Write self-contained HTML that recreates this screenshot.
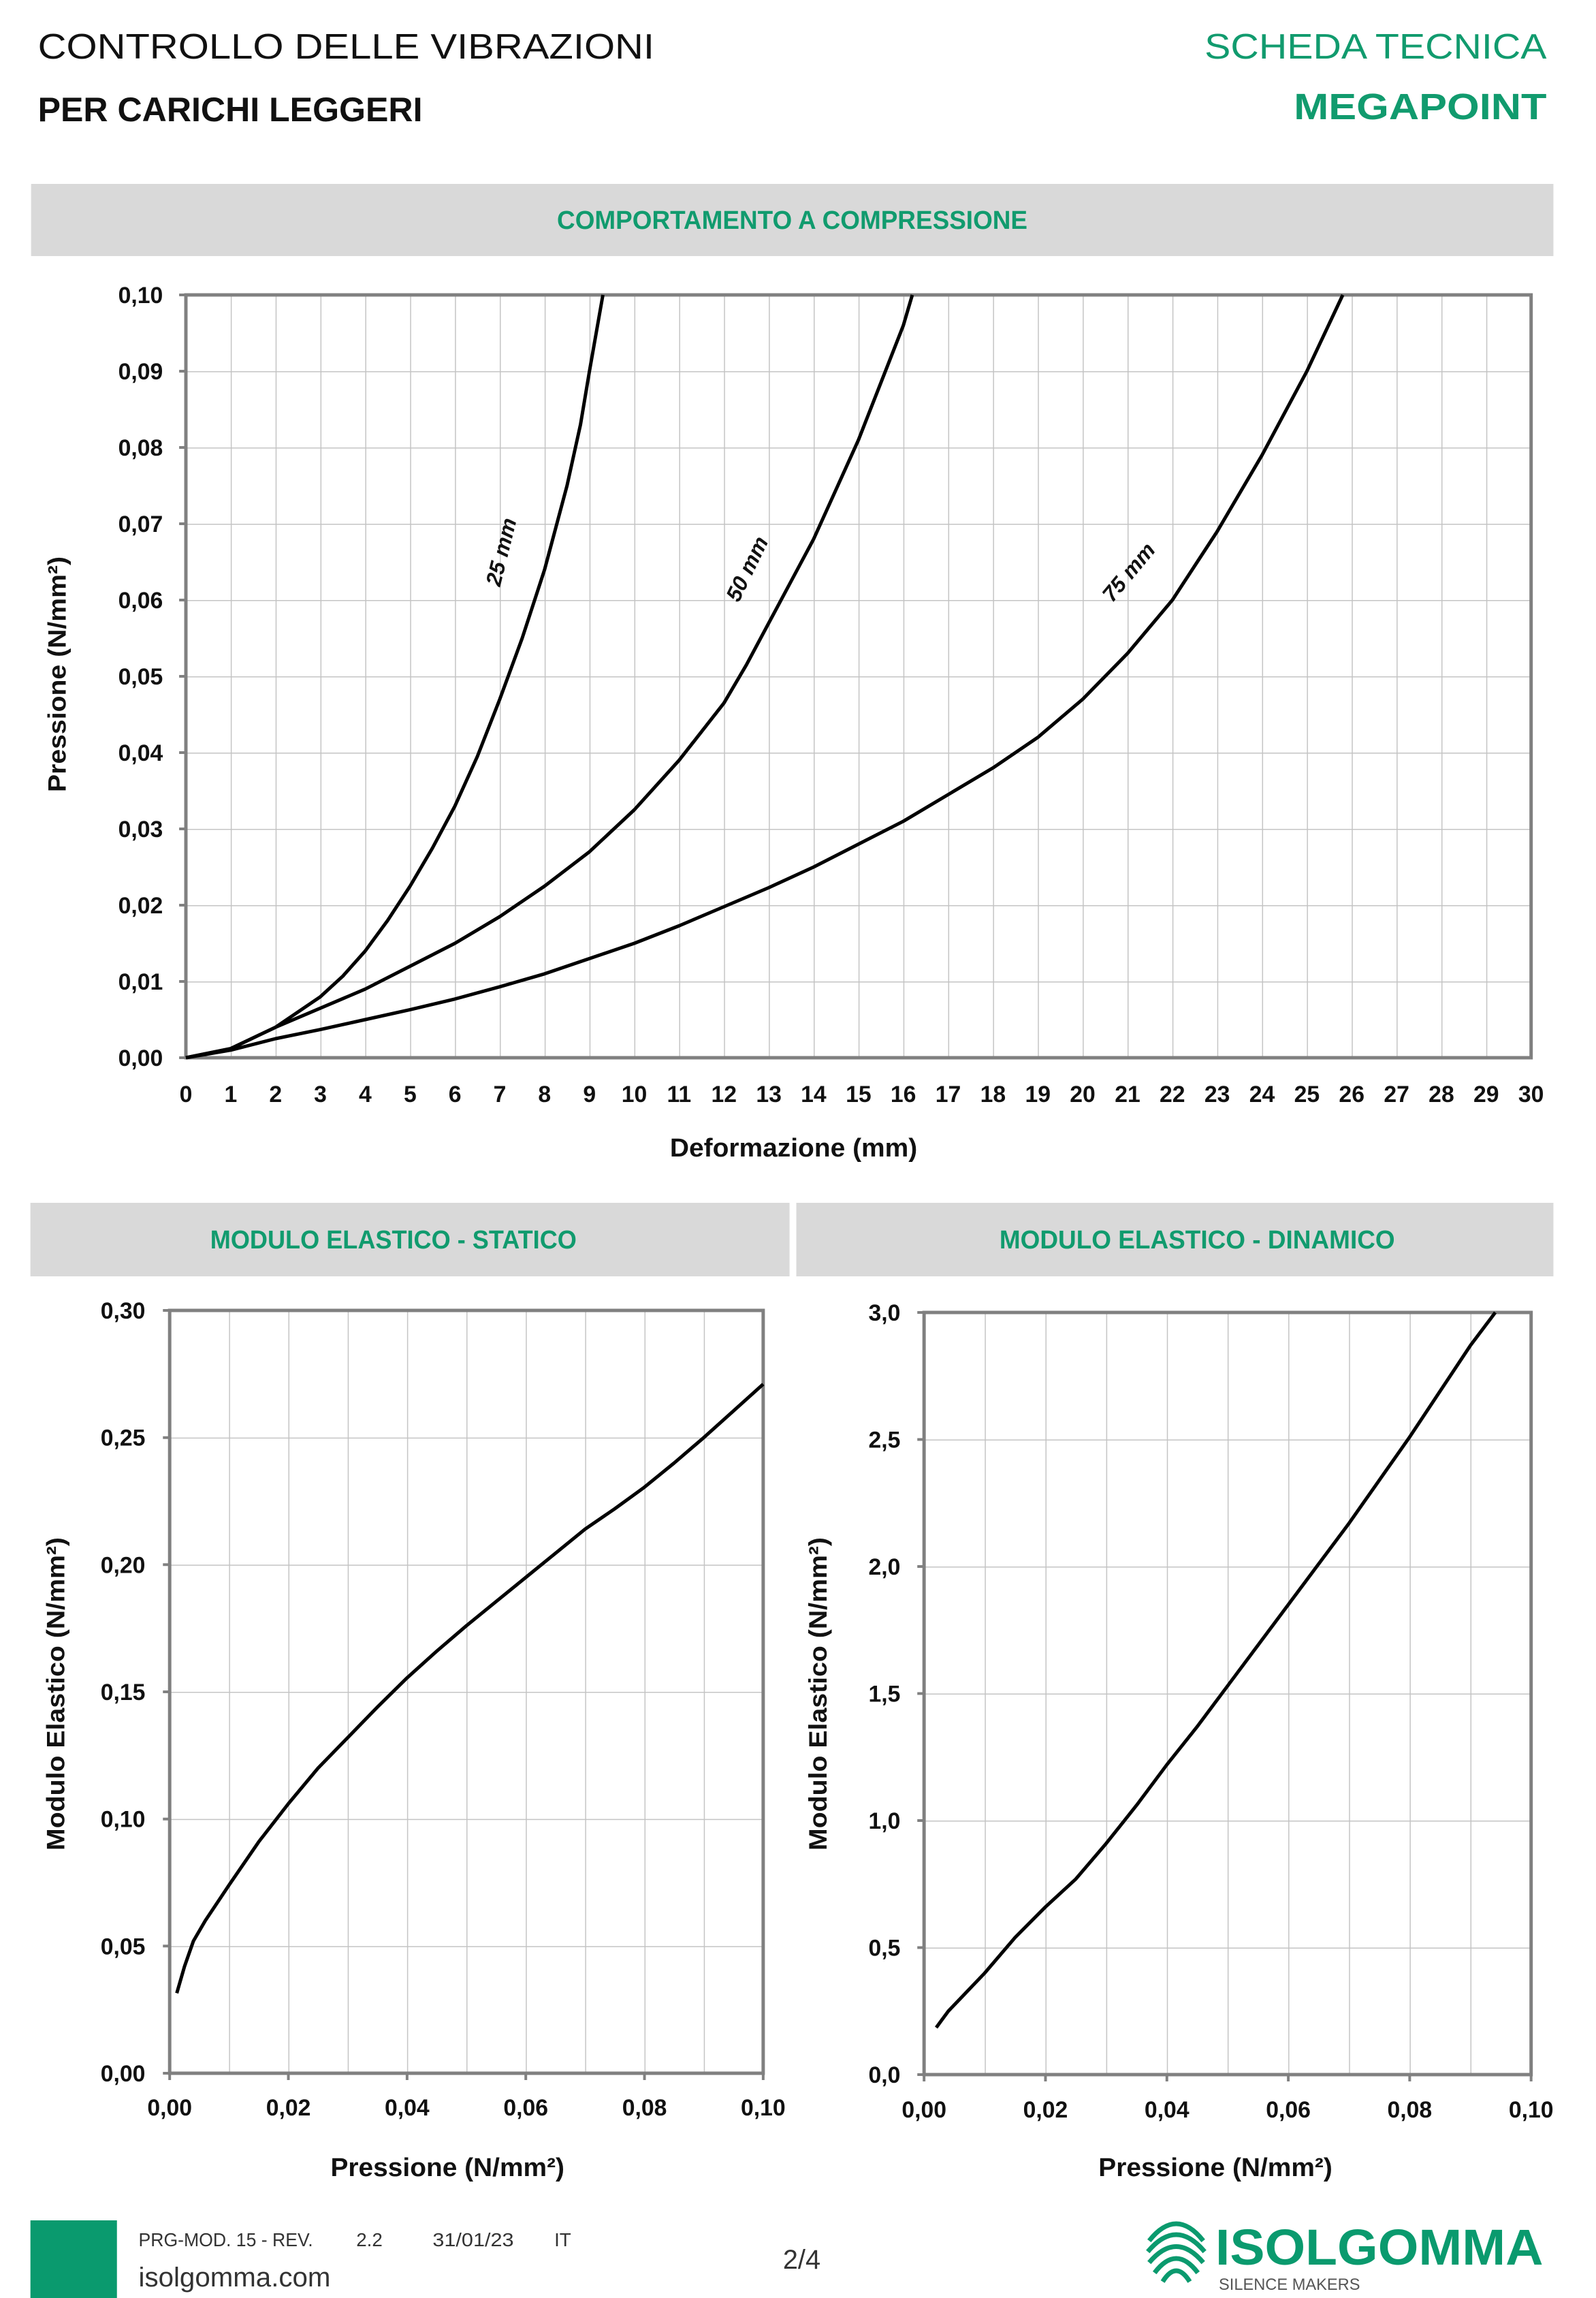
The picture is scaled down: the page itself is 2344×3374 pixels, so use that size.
<!DOCTYPE html>
<html><head><meta charset="utf-8"><style>
html,body{margin:0;padding:0;background:#fff;}
svg{display:block;}
text{font-family:"Liberation Sans",sans-serif;}
</style></head><body>
<svg width="2344" height="3374" viewBox="0 0 2344 3374" xmlns="http://www.w3.org/2000/svg">
<defs>
<pattern id="g1" x="275" y="433" width="66.333" height="112" patternUnits="userSpaceOnUse">
<path d="M0 0V112M0 0H66.333" stroke="#c4c4c4" stroke-width="3" fill="none"/></pattern>
<pattern id="g2" x="251" y="1924" width="87.8" height="186.667" patternUnits="userSpaceOnUse">
<path d="M0 0V186.667M0 0H87.8" stroke="#c4c4c4" stroke-width="3" fill="none"/></pattern>
<pattern id="g3" x="1367" y="1927" width="89.8" height="186.5" patternUnits="userSpaceOnUse">
<path d="M0 0V186.5M0 0H89.8" stroke="#c4c4c4" stroke-width="3" fill="none"/></pattern>
</defs>
<g transform="scale(0.9928,1)">
<!-- header -->
<text x="56" y="86" font-size="52" fill="#111" textLength="912" lengthAdjust="spacingAndGlyphs">CONTROLLO DELLE VIBRAZIONI</text>
<text x="56" y="178" font-size="50" font-weight="bold" fill="#111" textLength="569" lengthAdjust="spacingAndGlyphs">PER CARICHI LEGGERI</text>
<text x="2288" y="86" font-size="52" fill="#119b6e" text-anchor="end" textLength="506" lengthAdjust="spacingAndGlyphs">SCHEDA TECNICA</text>
<text x="2288" y="175" font-size="54" font-weight="bold" fill="#119b6e" text-anchor="end" textLength="374" lengthAdjust="spacingAndGlyphs">MEGAPOINT</text>

<!-- band 1 -->
<rect x="46" y="270" width="2252" height="106" fill="#d9d9d9"/>
<text x="1172" y="336" font-size="38" font-weight="bold" fill="#119b6e" text-anchor="middle" textLength="696" lengthAdjust="spacingAndGlyphs">COMPORTAMENTO A COMPRESSIONE</text>

<!-- top chart -->
<rect x="275" y="433" width="1990" height="1120" fill="url(#g1)"/>
<rect x="275" y="433" width="1990" height="1120" fill="none" stroke="#808080" stroke-width="5"/>
<g stroke="#808080" stroke-width="4">
<path d="M265 433H275M265 545H275M265 657H275M265 769H275M265 881H275M265 993H275M265 1105H275M265 1217H275M265 1329H275M265 1441H275M265 1553H275"/>
</g>
<g font-size="34" font-weight="bold" fill="#111" text-anchor="end">
<text x="241" y="445">0,10</text><text x="241" y="557">0,09</text><text x="241" y="669">0,08</text><text x="241" y="781">0,07</text><text x="241" y="893">0,06</text><text x="241" y="1005">0,05</text><text x="241" y="1117">0,04</text><text x="241" y="1229">0,03</text><text x="241" y="1341">0,02</text><text x="241" y="1453">0,01</text><text x="241" y="1565">0,00</text>
</g>
<g font-size="34" font-weight="bold" fill="#111" text-anchor="middle">
<text x="275" y="1618">0</text><text x="341.3" y="1618">1</text><text x="407.7" y="1618">2</text><text x="474" y="1618">3</text><text x="540.3" y="1618">4</text><text x="606.7" y="1618">5</text><text x="673" y="1618">6</text><text x="739.3" y="1618">7</text><text x="805.6" y="1618">8</text><text x="872" y="1618">9</text><text x="938.3" y="1618">10</text><text x="1004.6" y="1618">11</text><text x="1071" y="1618">12</text><text x="1137.3" y="1618">13</text><text x="1203.6" y="1618">14</text><text x="1270" y="1618">15</text><text x="1336.3" y="1618">16</text><text x="1402.6" y="1618">17</text><text x="1469" y="1618">18</text><text x="1535.3" y="1618">19</text><text x="1601.6" y="1618">20</text><text x="1668" y="1618">21</text><text x="1734.3" y="1618">22</text><text x="1800.6" y="1618">23</text><text x="1867" y="1618">24</text><text x="1933.3" y="1618">25</text><text x="1999.6" y="1618">26</text><text x="2066" y="1618">27</text><text x="2132.3" y="1618">28</text><text x="2198.6" y="1618">29</text><text x="2265" y="1618">30</text>
</g>
<text x="1174" y="1698" font-size="38" font-weight="bold" fill="#111" text-anchor="middle" textLength="366" lengthAdjust="spacingAndGlyphs">Deformazione (mm)</text>
<text transform="translate(97,990) rotate(-90)" font-size="37" font-weight="bold" fill="#111" text-anchor="middle" textLength="346" lengthAdjust="spacingAndGlyphs">Pressione (N/mm²)</text>

<g transform="translate(275,1553) scale(66.333,-11200)" fill="none" stroke="#000" stroke-width="5" stroke-linejoin="round">
<polyline vector-effect="non-scaling-stroke" points="0,0 1,0.0012 2,0.004 3,0.008 3.5,0.0107 4,0.014 4.5,0.018 5,0.0225 5.5,0.0275 6,0.033 6.5,0.0395 7,0.047 7.5,0.055 8,0.064 8.5,0.075 8.8,0.083 9,0.09 9.15,0.095 9.3,0.1"/>
<polyline vector-effect="non-scaling-stroke" points="0,0 1,0.0012 2,0.004 3,0.0065 4,0.009 5,0.012 6,0.015 7,0.0185 8,0.0225 9,0.027 10,0.0325 11,0.039 12,0.0465 12.5,0.0515 13,0.057 13.5,0.0625 14,0.068 14.5,0.0745 15,0.081 15.5,0.0885 16,0.096 16.2,0.1"/>
<polyline vector-effect="non-scaling-stroke" points="0,0 1,0.001 2,0.0025 3,0.0037 4,0.005 5,0.0063 6,0.0077 7,0.0093 8,0.011 9,0.013 10,0.015 11,0.0173 12,0.0198 13,0.0223 14,0.025 15,0.028 16,0.031 17,0.0345 18,0.038 19,0.042 20,0.047 21,0.053 22,0.06 23,0.069 24,0.079 25,0.09 25.8,0.1"/>
</g>
<g font-size="32" font-weight="bold" font-style="italic" fill="#111" text-anchor="middle">
<text transform="translate(752,813) rotate(-76)">25 mm</text>
<text transform="translate(1115,840) rotate(-64)">50 mm</text>
<text transform="translate(1678,847) rotate(-50)">75 mm</text>
</g>

<!-- bands 2 -->
<rect x="45" y="1766" width="1123" height="108" fill="#d9d9d9"/>
<rect x="1178" y="1766" width="1120" height="108" fill="#d9d9d9"/>
<text x="582" y="1833" font-size="38" font-weight="bold" fill="#119b6e" text-anchor="middle" textLength="542" lengthAdjust="spacingAndGlyphs">MODULO ELASTICO - STATICO</text>
<text x="1771" y="1833" font-size="38" font-weight="bold" fill="#119b6e" text-anchor="middle" textLength="585" lengthAdjust="spacingAndGlyphs">MODULO ELASTICO - DINAMICO</text>

<!-- bottom left chart -->
<rect x="251" y="1924" width="878" height="1120" fill="url(#g2)"/>
<rect x="251" y="1924" width="878" height="1120" fill="none" stroke="#808080" stroke-width="5"/>
<g stroke="#808080" stroke-width="4"><path d="M241 1924H251M241 2110.7H251M241 2297.3H251M241 2484H251M241 2670.7H251M241 2857.3H251M241 3044H251M251 3044V3054M426.6 3044V3054M602.2 3044V3054M777.8 3044V3054M953.4 3044V3054M1129 3044V3054"/></g>
<g font-size="34" font-weight="bold" fill="#111" text-anchor="end">
<text x="215" y="1936">0,30</text><text x="215" y="2122.7">0,25</text><text x="215" y="2309.3">0,20</text><text x="215" y="2496">0,15</text><text x="215" y="2682.7">0,10</text><text x="215" y="2869.3">0,05</text><text x="215" y="3056">0,00</text>
</g>
<g font-size="34" font-weight="bold" fill="#111" text-anchor="middle">
<text x="251" y="3106">0,00</text><text x="426.6" y="3106">0,02</text><text x="602.2" y="3106">0,04</text><text x="777.8" y="3106">0,06</text><text x="953.4" y="3106">0,08</text><text x="1129" y="3106">0,10</text>
</g>
<text x="662" y="3195" font-size="38" font-weight="bold" fill="#111" text-anchor="middle" textLength="346" lengthAdjust="spacingAndGlyphs">Pressione (N/mm²)</text>
<text transform="translate(95,2487) rotate(-90)" font-size="37" font-weight="bold" fill="#111" text-anchor="middle" textLength="460" lengthAdjust="spacingAndGlyphs">Modulo Elastico (N/mm²)</text>
<g transform="translate(251,3044) scale(8780,-3733.33)">
<polyline vector-effect="non-scaling-stroke" fill="none" stroke="#000" stroke-width="5" stroke-linejoin="round" points="0.0012,0.0315 0.0025,0.042 0.004,0.052 0.006,0.06 0.008,0.067 0.01,0.074 0.015,0.091 0.02,0.106 0.025,0.12 0.03,0.132 0.035,0.144 0.04,0.1555 0.045,0.166 0.05,0.176 0.055,0.1855 0.06,0.195 0.065,0.2045 0.07,0.214 0.075,0.222 0.08,0.2305 0.085,0.24 0.09,0.25 0.095,0.2605 0.1,0.271"/>
</g>

<!-- bottom right chart -->
<rect x="1367" y="1927" width="898" height="1119" fill="url(#g3)"/>
<rect x="1367" y="1927" width="898" height="1119" fill="none" stroke="#808080" stroke-width="5"/>
<g stroke="#808080" stroke-width="4"><path d="M1357 1927H1367M1357 2113.5H1367M1357 2300H1367M1357 2486.5H1367M1357 2673H1367M1357 2859.5H1367M1357 3046H1367M1367 3046V3056M1546.6 3046V3056M1726.2 3046V3056M1905.8 3046V3056M2085.4 3046V3056M2265 3046V3056"/></g>
<g font-size="34" font-weight="bold" fill="#111" text-anchor="end">
<text x="1332" y="1939">3,0</text><text x="1332" y="2125.5">2,5</text><text x="1332" y="2312">2,0</text><text x="1332" y="2498.5">1,5</text><text x="1332" y="2685">1,0</text><text x="1332" y="2871.5">0,5</text><text x="1332" y="3058">0,0</text>
</g>
<g font-size="34" font-weight="bold" fill="#111" text-anchor="middle">
<text x="1367" y="3109">0,00</text><text x="1546.6" y="3109">0,02</text><text x="1726.2" y="3109">0,04</text><text x="1905.8" y="3109">0,06</text><text x="2085.4" y="3109">0,08</text><text x="2265" y="3109">0,10</text>
</g>
<text x="1798" y="3195" font-size="38" font-weight="bold" fill="#111" text-anchor="middle" textLength="346" lengthAdjust="spacingAndGlyphs">Pressione (N/mm²)</text>
<text transform="translate(1223,2487) rotate(-90)" font-size="37" font-weight="bold" fill="#111" text-anchor="middle" textLength="460" lengthAdjust="spacingAndGlyphs">Modulo Elastico (N/mm²)</text>
<g transform="translate(1367,3046) scale(8980,-373)">
<polyline vector-effect="non-scaling-stroke" fill="none" stroke="#000" stroke-width="5" stroke-linejoin="round" points="0.002,0.185 0.004,0.25 0.006,0.3 0.008,0.35 0.01,0.4 0.015,0.54 0.02,0.66 0.025,0.77 0.03,0.91 0.035,1.06 0.04,1.22 0.045,1.37 0.05,1.53 0.055,1.69 0.06,1.85 0.065,2.01 0.07,2.17 0.075,2.34 0.08,2.51 0.085,2.69 0.09,2.87 0.0941,3.0"/>
</g>

<!-- footer -->
<rect x="45" y="3260" width="128" height="114" fill="#0a9a6e"/>
<g font-size="28" fill="#333">
<text x="205" y="3298" textLength="258" lengthAdjust="spacingAndGlyphs">PRG-MOD. 15 - REV.</text>
<text x="527" y="3298">2.2</text>
<text x="640" y="3298" textLength="120" lengthAdjust="spacingAndGlyphs">31/01/23</text>
<text x="820" y="3298">IT</text>
</g>
<text x="205" y="3357" font-size="40" fill="#333" textLength="284" lengthAdjust="spacingAndGlyphs">isolgomma.com</text>
<text x="1186" y="3331" font-size="40" fill="#333" text-anchor="middle">2/4</text>
<g fill="none" stroke="#0a9a6e" stroke-width="7">
<path d="M1700 3290 Q1740 3240 1780 3290"/>
<path d="M1698 3306 Q1740 3256 1782 3306"/>
<path d="M1700 3322 Q1740 3275 1780 3322"/>
<path d="M1708 3337 Q1740 3295 1772 3337"/>
<path d="M1720 3350 Q1740 3318 1760 3350"/>
</g>
<text x="1798" y="3325" font-size="74" font-weight="bold" fill="#0a9a6e" textLength="485" lengthAdjust="spacingAndGlyphs">ISOLGOMMA</text>
<text x="1803" y="3362" font-size="24" fill="#555" textLength="209" lengthAdjust="spacingAndGlyphs">SILENCE MAKERS</text>
</g>
</svg>
</body></html>
